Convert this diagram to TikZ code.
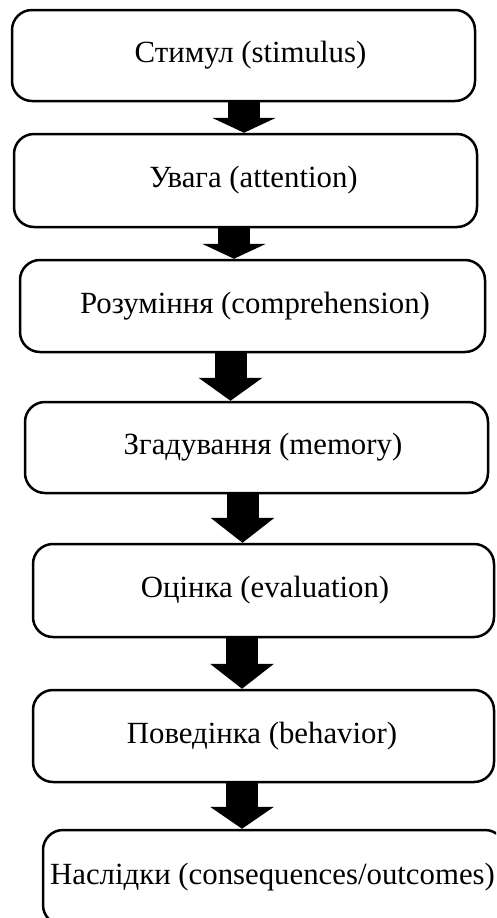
\documentclass[tikz,border=0pt]{standalone}
\usepackage{fontspec}
\setmainfont{Liberation Serif}
\usetikzlibrary{arrows.meta}
\tikzset{
  stage/.style={draw=black, line width=2.5pt, rounded corners=20pt, fill=white,
    inner sep=0pt, font=\fontsize{30.8pt}{36pt}\selectfont},
  blockarrow/.style={line width=32pt, draw=black,
    -{Triangle[length=#1, width=64pt, line width=0pt]}}
}
\begin{document}
\begin{tikzpicture}[x=1pt,y=-1pt]
\useasboundingbox (0,0) rectangle (496,918);
\clip (0,0) rectangle (496,918);
\node[stage, minimum width=463pt, minimum height=91pt] (b1) at (243.5,55.5) {\hspace*{14pt}Стимул (stimulus)};
\node[stage, minimum width=463pt, minimum height=93pt] (b2) at (245.5,180.5) {\hspace*{16pt}Увага (attention)};
\node[stage, minimum width=465pt, minimum height=92pt] (b3) at (252.5,306) {\hspace*{5pt}Розуміння (comprehension)};
\node[stage, minimum width=463pt, minimum height=91pt] (b4) at (256.5,447.5) {\hspace*{13pt}Згадування (memory)};
\node[stage, minimum width=461pt, minimum height=93pt] (b5) at (263.5,590.5) {\hspace*{3pt}Оцінка (evaluation)};
\node[stage, minimum width=461pt, minimum height=92pt] (b6) at (263.5,736) {Поведінка (behavior)\hspace*{3pt}};
\node[stage, minimum width=462pt, minimum height=95pt] (b7) at (274,877.5) {Наслідки (consequences/outcomes)\hspace*{3pt}};
\coordinate (x1) at (244,0);
\coordinate (x2) at (234,0);
\coordinate (x3) at (230.5,0);
\coordinate (x4) at (242.5,0);
\coordinate (x5) at (242,0);
\coordinate (x6) at (242,0);
\draw[blockarrow=15pt] (b1.south -| x1) -- (b2.north -| x1);
\draw[blockarrow=15pt] (b2.south -| x2) -- (b3.north -| x2);
\draw[blockarrow=23pt] (b3.south -| x3) -- (b4.north -| x3);
\draw[blockarrow=25pt] (b4.south -| x4) -- (b5.north -| x4);
\draw[blockarrow=25pt] (b5.south -| x5) -- (b6.north -| x5);
\draw[blockarrow=22pt] (b6.south -| x6) -- (b7.north -| x6);
\end{tikzpicture}
\end{document}
